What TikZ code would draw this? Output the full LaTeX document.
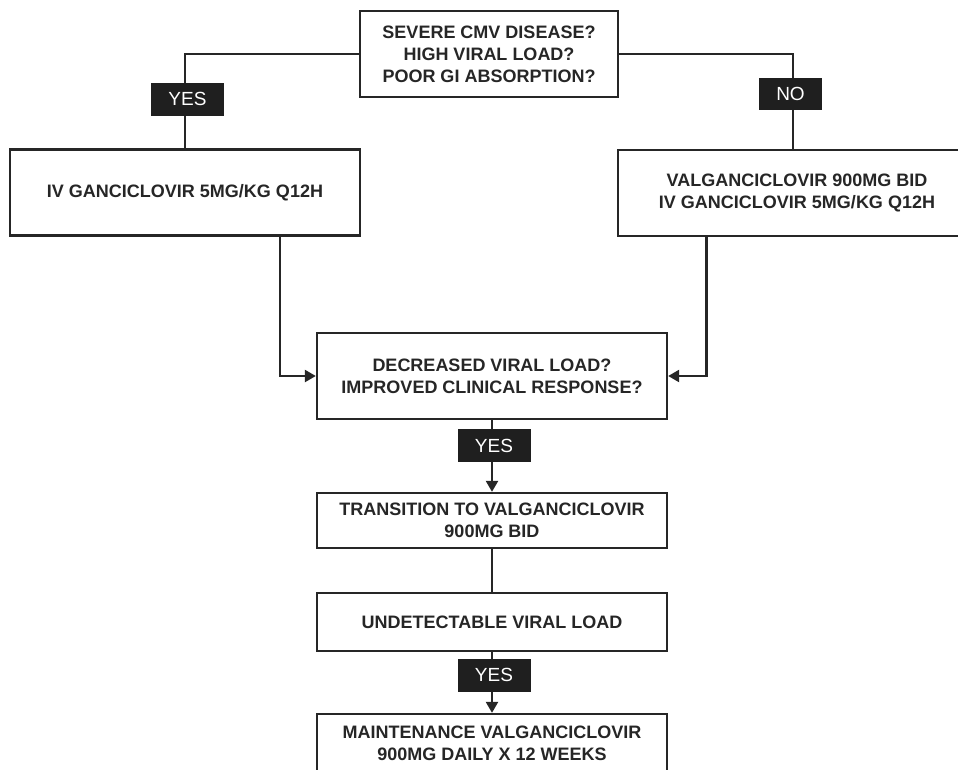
\documentclass[tikz,border=0pt]{standalone}
\usepackage{fontspec}
\setmainfont{Liberation Sans}
\usetikzlibrary{arrows.meta}
\begin{document}
\begin{tikzpicture}[x=1pt,y=-1pt,
  box/.style={draw=black!85,line width=2.3pt,fill=white,align=center,inner sep=0pt,
    font=\fontsize{18}{22}\selectfont\bfseries,text=black!85},
  tag/.style={fill=black!88,text=white,minimum width=73pt,minimum height=33pt,inner sep=0pt,
    font=\fontsize{19}{20}\selectfont},
  conn/.style={draw=black!85,line width=2.3pt},
  arr/.style={conn,-{Triangle[length=11pt,width=12pt]}}]
\useasboundingbox (0,0) rectangle (958,769);
\clip (0,0) rectangle (958,769);
\node[box,minimum width=258pt,minimum height=86pt] (top) at (489,54)
  {SEVERE CMV DISEASE?\\HIGH VIRAL LOAD?\\POOR GI ABSORPTION?};
\node[box,minimum width=350pt,minimum height=86pt] (left) at (185,192.5)
  {IV GANCICLOVIR 5MG/KG Q12H};
\node[box,minimum width=358pt,minimum height=86pt] (right) at (797,193)
  {VALGANCICLOVIR 900MG BID\\IV GANCICLOVIR 5MG/KG Q12H};
\node[box,minimum width=350pt,minimum height=86pt] (dec) at (492,376)
  {DECREASED VIRAL LOAD?\\IMPROVED CLINICAL RESPONSE?};
\node[box,minimum width=350pt,minimum height=55pt] (trans) at (492,520.5)
  {TRANSITION TO VALGANCICLOVIR\\900MG BID};
\node[box,minimum width=350pt,minimum height=58pt] (und) at (492,622)
  {UNDETECTABLE VIRAL LOAD};
\node[box,minimum width=350pt,minimum height=58pt] (maint) at (492,743)
  {MAINTENANCE VALGANCICLOVIR\\900MG DAILY X 12 WEEKS};
% connectors
\draw[conn] (top.west) -| (left.north);
\draw[conn] (top.east) -| ([xshift=-4pt]right.north);
\draw[arr] ([xshift=95pt]left.south) |- (dec.west);
\draw[arr] ([xshift=-90.5pt]right.south) |- (dec.east);
\draw[arr] (dec.south) -- (trans.north);
\draw[conn] (trans.south) -- (und.north);
\draw[arr] (und.south) -- (maint.north);
% labels
\node[tag] (y1) at (187.5,99) {YES};
\node[tag,minimum width=63pt,minimum height=32pt] (n1) at (790.5,94) {NO};
\node[tag] (y2) at (494,445.5) {YES};
\node[tag] (y3) at (494,675) {YES};
\end{tikzpicture}
\end{document}
